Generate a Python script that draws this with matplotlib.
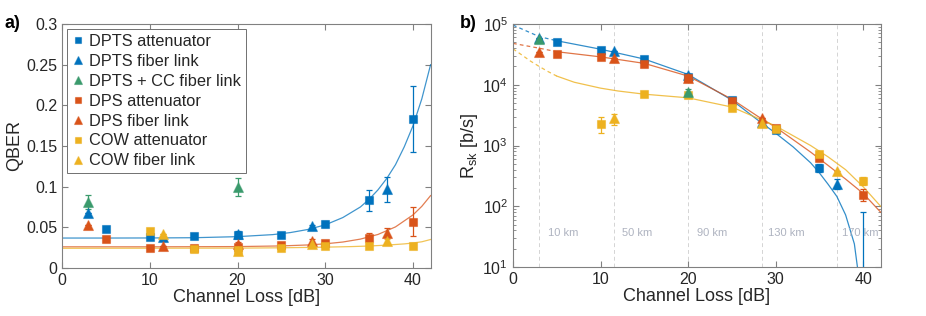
import numpy as np
import matplotlib
matplotlib.use("Agg")
import matplotlib.pyplot as plt

plt.rcParams['font.family'] = ['Liberation Sans', 'DejaVu Sans']
plt.rcParams['mathtext.fontset'] = 'custom'
plt.rcParams['mathtext.rm'] = 'Liberation Sans'

BLUE = '#0072BD'
ORANGE = '#D95319'
YELLOW = '#EDB120'
GREEN = '#3A9A6C'
AXC = '#808080'
TXT = '#262626'

# ---------------- a) QBER ----------------
# DPTS attenuator
dpts_att_x = [5, 10, 15, 20, 25, 30, 35, 40]
dpts_att_q = [0.0485, 0.0386, 0.0387, 0.041, 0.041, 0.0538, 0.0834, 0.183]
dpts_att_qe = [0, 0, 0, 0.003, 0.002, 0.004, 0.013, 0.041]
# DPTS fiber link
dpts_fib_x = [3, 11.5, 20, 28.5, 37]
dpts_fib_q = [0.0678, 0.038, 0.042, 0.0514, 0.0965]
dpts_fib_qe = [0, 0, 0.003, 0.002, 0.015]
# DPTS + CC fiber link
cc_fib_x = [3, 20]
cc_fib_q = [0.081, 0.0994]
cc_fib_qe = [0.009, 0.011]
# DPS attenuator
dps_att_x = [5, 10, 15, 20, 25, 30, 35, 40]
dps_att_q = [0.0357, 0.0242, 0.025, 0.026, 0.0288, 0.031, 0.0374, 0.0567]
dps_att_qe = [0, 0, 0, 0, 0, 0, 0.006, 0.018]
# DPS fiber link
dps_fib_x = [3, 11.5, 20, 28.5, 37]
dps_fib_q = [0.0534, 0.0271, 0.0296, 0.033, 0.0435]
dps_fib_qe = [0, 0, 0.002, 0.003, 0.006]
# COW attenuator
cow_att_x = [10, 15, 20, 25, 30, 35, 40]
cow_att_q = [0.046, 0.0238, 0.022, 0.024, 0.027, 0.027, 0.027]
cow_att_qe = [0, 0, 0, 0, 0, 0, 0]
# COW fiber link
cow_fib_x = [11.5, 20, 28.5, 37]
cow_fib_q = [0.042, 0.0205, 0.029, 0.0333]
cow_fib_qe = [0, 0.003, 0, 0.002]

# fitted curves
fit_dpts_x = [0, 5, 10, 15, 20, 24, 26, 28, 30, 32, 34, 35, 36, 37, 38, 39, 40, 41, 42]
fit_dpts_q = [0.0368, 0.0368, 0.0369, 0.0372, 0.0385, 0.041, 0.0435, 0.0473, 0.053,
              0.062, 0.075, 0.0845, 0.096, 0.110, 0.127, 0.149, 0.175, 0.208, 0.250]
fit_dps_x = [0, 10, 20, 25, 28, 30, 32, 34, 36, 38, 40, 41, 42]
fit_dps_q = [0.026, 0.026, 0.0263, 0.0271, 0.0283, 0.0297, 0.0319, 0.0355, 0.0412,
             0.0505, 0.0653, 0.0758, 0.089]
fit_cow_x = [0, 20, 25, 30, 33, 35, 37, 39, 40, 41, 42]
fit_cow_q = [0.0242, 0.0244, 0.0248, 0.0256, 0.0263, 0.027, 0.0281, 0.0296, 0.0307,
             0.0322, 0.035]

# ---------------- b) secret key rate ----------------
dpts_att_r = [5.0e4, 3.8e4, 2.65e4, 1.32e4, 5.6e3, 1.8e3, 430, 5]
dpts_att_re = [[0, 0, 0, 0, 0, 0, 60, 4], [0, 0, 0, 0, 0, 0, 70, 75]]
dpts_fib_r = [5.8e4, 3.6e4, 1.43e4, 2.45e3, 237]
dpts_fib_re = [[0, 0, 0, 0, 45], [0, 0, 0, 0, 40]]
cc_fib_r = [5.6e4, 7.7e3]
cc_fib_re = [[0, 900], [0, 900]]
dps_att_r = [3.2e4, 2.9e4, 2.2e4, 1.27e4, 5.45e3, 1.93e3, 618, 156]
dps_att_re = [[0, 0, 0, 0, 0, 0, 60, 32], [0, 0, 0, 0, 0, 0, 60, 40]]
dps_fib_r = [3.4e4, 2.8e4, 1.3e4, 2.86e3, 0]
dps_fib_re = [[0, 0, 0, 0, 0], [0, 0, 0, 0, 0]]
cow_att_r = [2.3e3, 7.1e3, 6.8e3, 4.2e3, 1.9e3, 730, 258]
cow_att_re = [[700, 0, 0, 0, 0, 60, 30], [700, 0, 0, 0, 0, 60, 40]]
cow_fib_r = [2.86e3, 0, 2.37e3, 378]
cow_fib_re = [[650, 0, 0, 0], [450, 0, 0, 0]]

rfit_dpts_x = [0, 3, 5, 10, 15, 20, 25, 28, 30, 32, 34, 35, 36, 37, 38, 39, 39.35]
rfit_dpts_r = [9.6e4, 6.2e4, 5.3e4, 3.85e4, 2.65e4, 1.48e4, 5.6e3, 2.6e3, 1.6e3, 950,
               520, 355, 230, 145, 72, 24, 10]
rfit_dps_x = [0, 3, 5, 10, 15, 20, 25, 28, 30, 32, 34, 36, 38, 40, 42]
rfit_dps_r = [4.8e4, 4.0e4, 3.5e4, 2.88e4, 2.25e4, 1.39e4, 5.8e3, 3.0e3, 2.0e3, 1.25e3,
              780, 470, 280, 163, 80]
rfit_cow_x = [0, 1, 2, 3, 4, 5, 7, 10, 12, 15, 20, 25, 28, 30, 32, 34, 36, 38, 40, 42]
rfit_cow_r = [3.9e4, 3.1e4, 2.45e4, 2.0e4, 1.65e4, 1.39e4, 1.1e4, 8.8e3, 7.9e3, 7.0e3,
              6.1e3, 4.3e3, 2.8e3, 2.1e3, 1.45e3, 1.0e3, 650, 400, 210, 100]
dash_end = 5  # model curves drawn dashed below this loss

dist_x = [3, 11.5, 20, 28.5, 37]
dist_lbl = ['10 km', '50 km', '90 km', '130 km', '170 km']

fig = plt.figure(figsize=(9.26, 3.16), dpi=100)
axa = fig.add_axes([0.067, 0.152, 0.398, 0.772])
axb = fig.add_axes([0.554, 0.155, 0.397, 0.769])

sq = dict(marker='s', ms=6.2)
tri = dict(marker='^', ms=7.5)


def pts(ax, x, y, e, col, mk, lbl=None):
    mec = matplotlib.colors.to_rgba(col, 0.55)
    ax.errorbar(x, y, yerr=e, fmt='none', ecolor=col, elinewidth=0.9,
                capsize=2, capthick=0.9, zorder=3)
    ax.plot(x, y, ls='none', color=col, mfc=col, mec=mec, mew=0.8,
            label=lbl, zorder=4, **mk)


def style(ax):
    for s in ax.spines.values():
        s.set_color(AXC)
        s.set_linewidth(0.8)
    ax.tick_params(direction='in', which='both', top=True, right=True,
                   colors=AXC, labelcolor=TXT, labelsize=11.5, length=4)
    ax.tick_params(which='minor', length=2.2)
    ax.set_xlabel('Channel Loss [dB]', fontsize=13, color=TXT, labelpad=1)


# panel a
axa.plot(fit_dpts_x, fit_dpts_q, color=BLUE, lw=0.9, alpha=0.75, zorder=2)
axa.plot(fit_dps_x, fit_dps_q, color=ORANGE, lw=0.9, alpha=0.75, zorder=2)
axa.plot(fit_cow_x, fit_cow_q, color=YELLOW, lw=0.9, alpha=0.75, zorder=2)
pts(axa, dpts_att_x, dpts_att_q, dpts_att_qe, BLUE, sq, 'DPTS attenuator')
pts(axa, dpts_fib_x, dpts_fib_q, dpts_fib_qe, BLUE, tri, 'DPTS fiber link')
pts(axa, cc_fib_x, cc_fib_q, cc_fib_qe, GREEN, tri, 'DPTS + CC fiber link')
pts(axa, dps_att_x, dps_att_q, dps_att_qe, ORANGE, sq, 'DPS attenuator')
pts(axa, dps_fib_x, dps_fib_q, dps_fib_qe, ORANGE, tri, 'DPS fiber link')
pts(axa, cow_att_x, cow_att_q, cow_att_qe, YELLOW, sq, 'COW attenuator')
pts(axa, cow_fib_x, cow_fib_q, cow_fib_qe, YELLOW, tri, 'COW fiber link')
axa.set_xlim(0, 42)
axa.set_ylim(0, 0.3)
axa.set_xticks([0, 10, 20, 30, 40])
axa.set_yticks([0, 0.05, 0.1, 0.15, 0.2, 0.25, 0.3])
axa.set_yticklabels(['0', '0.05', '0.1', '0.15', '0.2', '0.25', '0.3'])
style(axa)
axa.set_ylabel('QBER', fontsize=13, color=TXT, labelpad=2)
leg = axa.legend(loc='upper left', fontsize=11.8, markerscale=0.72, handlelength=0.7,
                 handletextpad=0.35, labelspacing=0.3, borderpad=0.3,
                 borderaxespad=0.3, fancybox=False, framealpha=1)
leg.get_frame().set_edgecolor('#707070')
leg.get_frame().set_linewidth(0.7)
for t in leg.get_texts():
    t.set_color(TXT)
fig.text(0.005, 0.925, 'a)', fontsize=13, fontweight='bold', va='center')

# panel b
for xv, lb in zip(dist_x, dist_lbl):
    axb.axvline(xv, color='#d4d4d4', lw=0.7, ls=(0, (4, 3)), zorder=1)
    axb.text(xv + 2.7, 37, lb, fontsize=8, color='#aeb3c0', ha='center', va='center')
for fx, fr, col in [(rfit_dpts_x, rfit_dpts_r, BLUE), (rfit_dps_x, rfit_dps_r, ORANGE),
                    (rfit_cow_x, rfit_cow_r, YELLOW)]:
    fx = np.array(fx)
    fr = np.array(fr)
    lo = fx <= dash_end
    hi = fx >= dash_end
    axb.plot(fx[lo], fr[lo], color=col, lw=0.9, ls=(0, (3, 2.5)), alpha=0.8, zorder=2)
    axb.plot(fx[hi], fr[hi], color=col, lw=0.9, alpha=0.8, zorder=2)
pts(axb, dpts_att_x, dpts_att_r, dpts_att_re, BLUE, sq)
pts(axb, dpts_fib_x, dpts_fib_r, dpts_fib_re, BLUE, tri)
pts(axb, dps_att_x, dps_att_r, dps_att_re, ORANGE, sq)
pts(axb, dps_fib_x[:4], dps_fib_r[:4], [e[:4] for e in dps_fib_re], ORANGE, tri)
pts(axb, cow_att_x, cow_att_r, cow_att_re, YELLOW, sq)
cf = [0, 2, 3]
pts(axb, [cow_fib_x[i] for i in cf], [cow_fib_r[i] for i in cf],
    [[e[i] for i in cf] for e in cow_fib_re], YELLOW, tri)
pts(axb, cc_fib_x, cc_fib_r, cc_fib_re, GREEN, tri)
axb.set_yscale('log')
axb.set_xlim(0, 42)
axb.set_ylim(10, 1e5)
axb.set_xticks([0, 10, 20, 30, 40])
axb.set_yticks([1e1, 1e2, 1e3, 1e4, 1e5])
axb.set_yticklabels([r'$10^{1}$', r'$10^{2}$', r'$10^{3}$', r'$10^{4}$', r'$10^{5}$'])
style(axb)
axb.set_ylabel(r'R$_{\mathregular{sk}}$ [b/s]', fontsize=13, color=TXT, labelpad=2)
fig.text(0.497, 0.925, 'b)', fontsize=13, fontweight='bold', va='center')

fig.savefig('out.png', dpi=100)
